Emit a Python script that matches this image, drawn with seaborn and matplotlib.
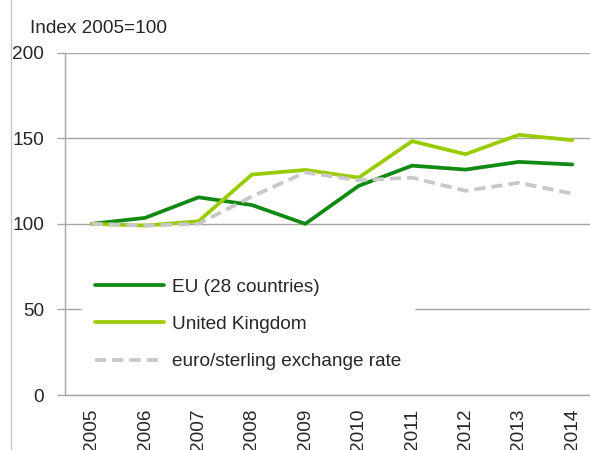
import matplotlib
matplotlib.use("Agg")
import matplotlib.pyplot as plt
from matplotlib.lines import Line2D
import pandas as pd
import seaborn as sns

years = ["2005", "2006", "2007", "2008", "2009", "2010", "2011", "2012", "2013", "2014"]
eu28 = [100, 103.5, 115.5, 111, 100, 122.2, 134, 131.7, 136.2, 134.7]
united_kingdom = [100, 99, 101.5, 128.8, 131.5, 127, 148.3, 140.7, 152, 148.9]
exchange_rate = [100, 99, 100, 116, 130, 125.5, 127, 119.3, 124, 117.7]

series_names = ["EU (28 countries)", "United Kingdom", "euro/sterling exchange rate"]
series_values = [eu28, united_kingdom, exchange_rate]
colors = ["#118A14", "#99CC00", "#C8C8C8"]

sns.set_theme(style="white")
plt.rcParams["font.family"] = ["Liberation Sans", "DejaVu Sans"]
text_color = "#262626"
grid_color = "#A6A6A6"
fs = 13.7
lw = 2.7

fig = plt.figure(figsize=(5.9, 4.5), dpi=100)
ax = fig.add_axes([65 / 590, 1 - 395 / 450, 534 / 590, (395 - 52.7) / 450])

df = pd.DataFrame({
    "year": years * 3,
    "value": eu28 + united_kingdom + exchange_rate,
    "series": sum([[n] * len(years) for n in series_names], []),
})

sns.lineplot(
    data=df, x="year", y="value", hue="series", style="series",
    palette=dict(zip(series_names, colors)),
    dashes={series_names[0]: "", series_names[1]: "", series_names[2]: (3, 1.6)},
    linewidth=lw, ax=ax, legend=False, zorder=3,
)

ax.set_xlim(-0.5, 9.5)
ax.set_ylim(0, 200)
ax.set_yticks([0, 50, 100, 150, 200])
ax.yaxis.grid(True, color=grid_color, linewidth=1.0)
ax.set_axisbelow(True)
ax.set_xlabel("")
ax.set_ylabel("")

for side in ["top", "right"]:
    ax.spines[side].set_visible(False)
for side in ["left", "bottom"]:
    ax.spines[side].set_color(grid_color)
    ax.spines[side].set_linewidth(1.0)

# category boundaries carry the tick marks, centers carry the labels
ax.set_xticks(range(len(years)))
ax.set_xticklabels(years, rotation=90, fontsize=fs, color=text_color)
ax.set_xticks([i - 0.5 for i in range(len(years) + 1)], minor=True)
ax.tick_params(axis="x", which="major", length=0, pad=10)
ax.tick_params(axis="x", which="minor", length=6, width=1.0, color=grid_color, direction="out")
ax.tick_params(axis="y", length=6, width=1.0, color=grid_color, direction="out",
               pad=9, labelsize=fs, labelcolor=text_color, left=True)

handles = [
    Line2D([], [], color=colors[0], linewidth=lw),
    Line2D([], [], color=colors[1], linewidth=lw),
    Line2D([], [], color=colors[2], linewidth=lw, dashes=(3, 1.6)),
]
leg = ax.legend(
    handles, series_names, loc="upper left", bbox_to_anchor=(0.032, 0.380),
    frameon=True, fontsize=fs, handlelength=3.6, handletextpad=0.4,
    labelspacing=1.05, borderpad=0.7, borderaxespad=0,
    fancybox=False, framealpha=1,
)
leg.get_frame().set_edgecolor("white")
leg.get_frame().set_facecolor("white")
for t in leg.get_texts():
    t.set_color(text_color)

fig.text(30 / 590, 1 - 33 / 450, "Index 2005=100", fontsize=fs, color=text_color,
         ha="left", va="baseline")

# thin frame line down the left edge
fig.add_artist(Line2D([11 / 590, 11 / 590], [0, 1], transform=fig.transFigure,
                      color="#C8C8C8", linewidth=1.0))

fig.savefig("out.png", dpi=100)
